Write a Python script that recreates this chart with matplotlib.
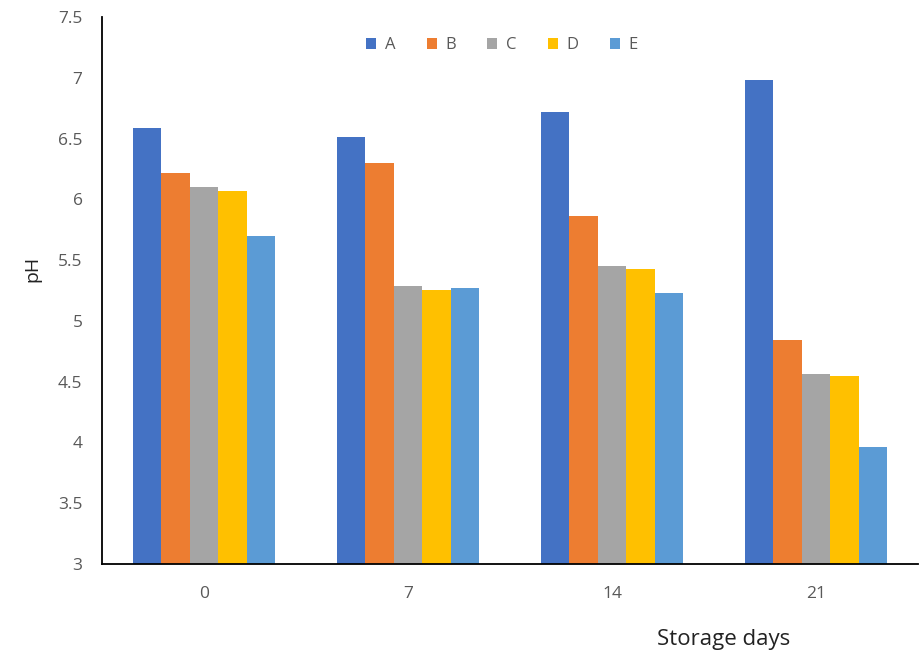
import numpy as np
import matplotlib.pyplot as plt

plt.rcParams['font.family'] = ['Open Sans', 'DejaVu Sans']

# Data
days = ['0', '7', '14', '21']
series_names = ['A', 'B', 'C', 'D', 'E']
ph_A = [6.59, 6.51, 6.72, 6.98]
ph_B = [6.22, 6.30, 5.86, 4.84]
ph_C = [6.10, 5.29, 5.45, 4.56]
ph_D = [6.07, 5.25, 5.43, 4.55]
ph_E = [5.70, 5.27, 5.23, 3.96]
colors = ['#4472C4', '#ED7D31', '#A5A5A5', '#FFC000', '#5B9BD5']

values = [ph_A, ph_B, ph_C, ph_D, ph_E]

fig = plt.figure(figsize=(9.19, 6.57), dpi=100)
ax = fig.add_axes([0.111, 0.1416, 0.888, 0.8326])

x = np.arange(len(days))
width = 0.14
for i, (name, vals, c) in enumerate(zip(series_names, values, colors)):
    ax.bar(x + (i - 2) * width, vals, width, color=c, label=name)

ax.set_ylim(3, 7.5)
ax.set_xlim(-0.5, len(days) - 0.5)
ax.set_yticks(np.arange(3, 7.51, 0.5))
ax.set_yticklabels(['3', '3.5', '4', '4.5', '5', '5.5', '6', '6.5', '7', '7.5'])
ax.set_xticks(x)
ax.set_xticklabels(days)
ax.tick_params(length=0, labelsize=12.5, labelcolor='#595959', pad=14)
ax.tick_params(axis='x', pad=16)

for s in ['top', 'right']:
    ax.spines[s].set_visible(False)
ax.spines['left'].set_color('black')
ax.spines['bottom'].set_color('black')
ax.spines['left'].set_linewidth(1.3)
ax.spines['bottom'].set_linewidth(1.3)

fig.text(0.035, 0.59, 'pH', rotation=90, fontsize=14, color='#222222',
         ha='center', va='center')
fig.text(0.787, 0.027, 'Storage days', fontsize=16, color='#222222',
         ha='center', va='center')

ax.legend(loc='upper center', bbox_to_anchor=(0.49, 0.99), ncol=5, frameon=False,
          fontsize=12, handlelength=0.6, handleheight=0.6, handletextpad=0.5,
          columnspacing=1.9, labelcolor='#595959')

fig.savefig('out.png', dpi=100)
